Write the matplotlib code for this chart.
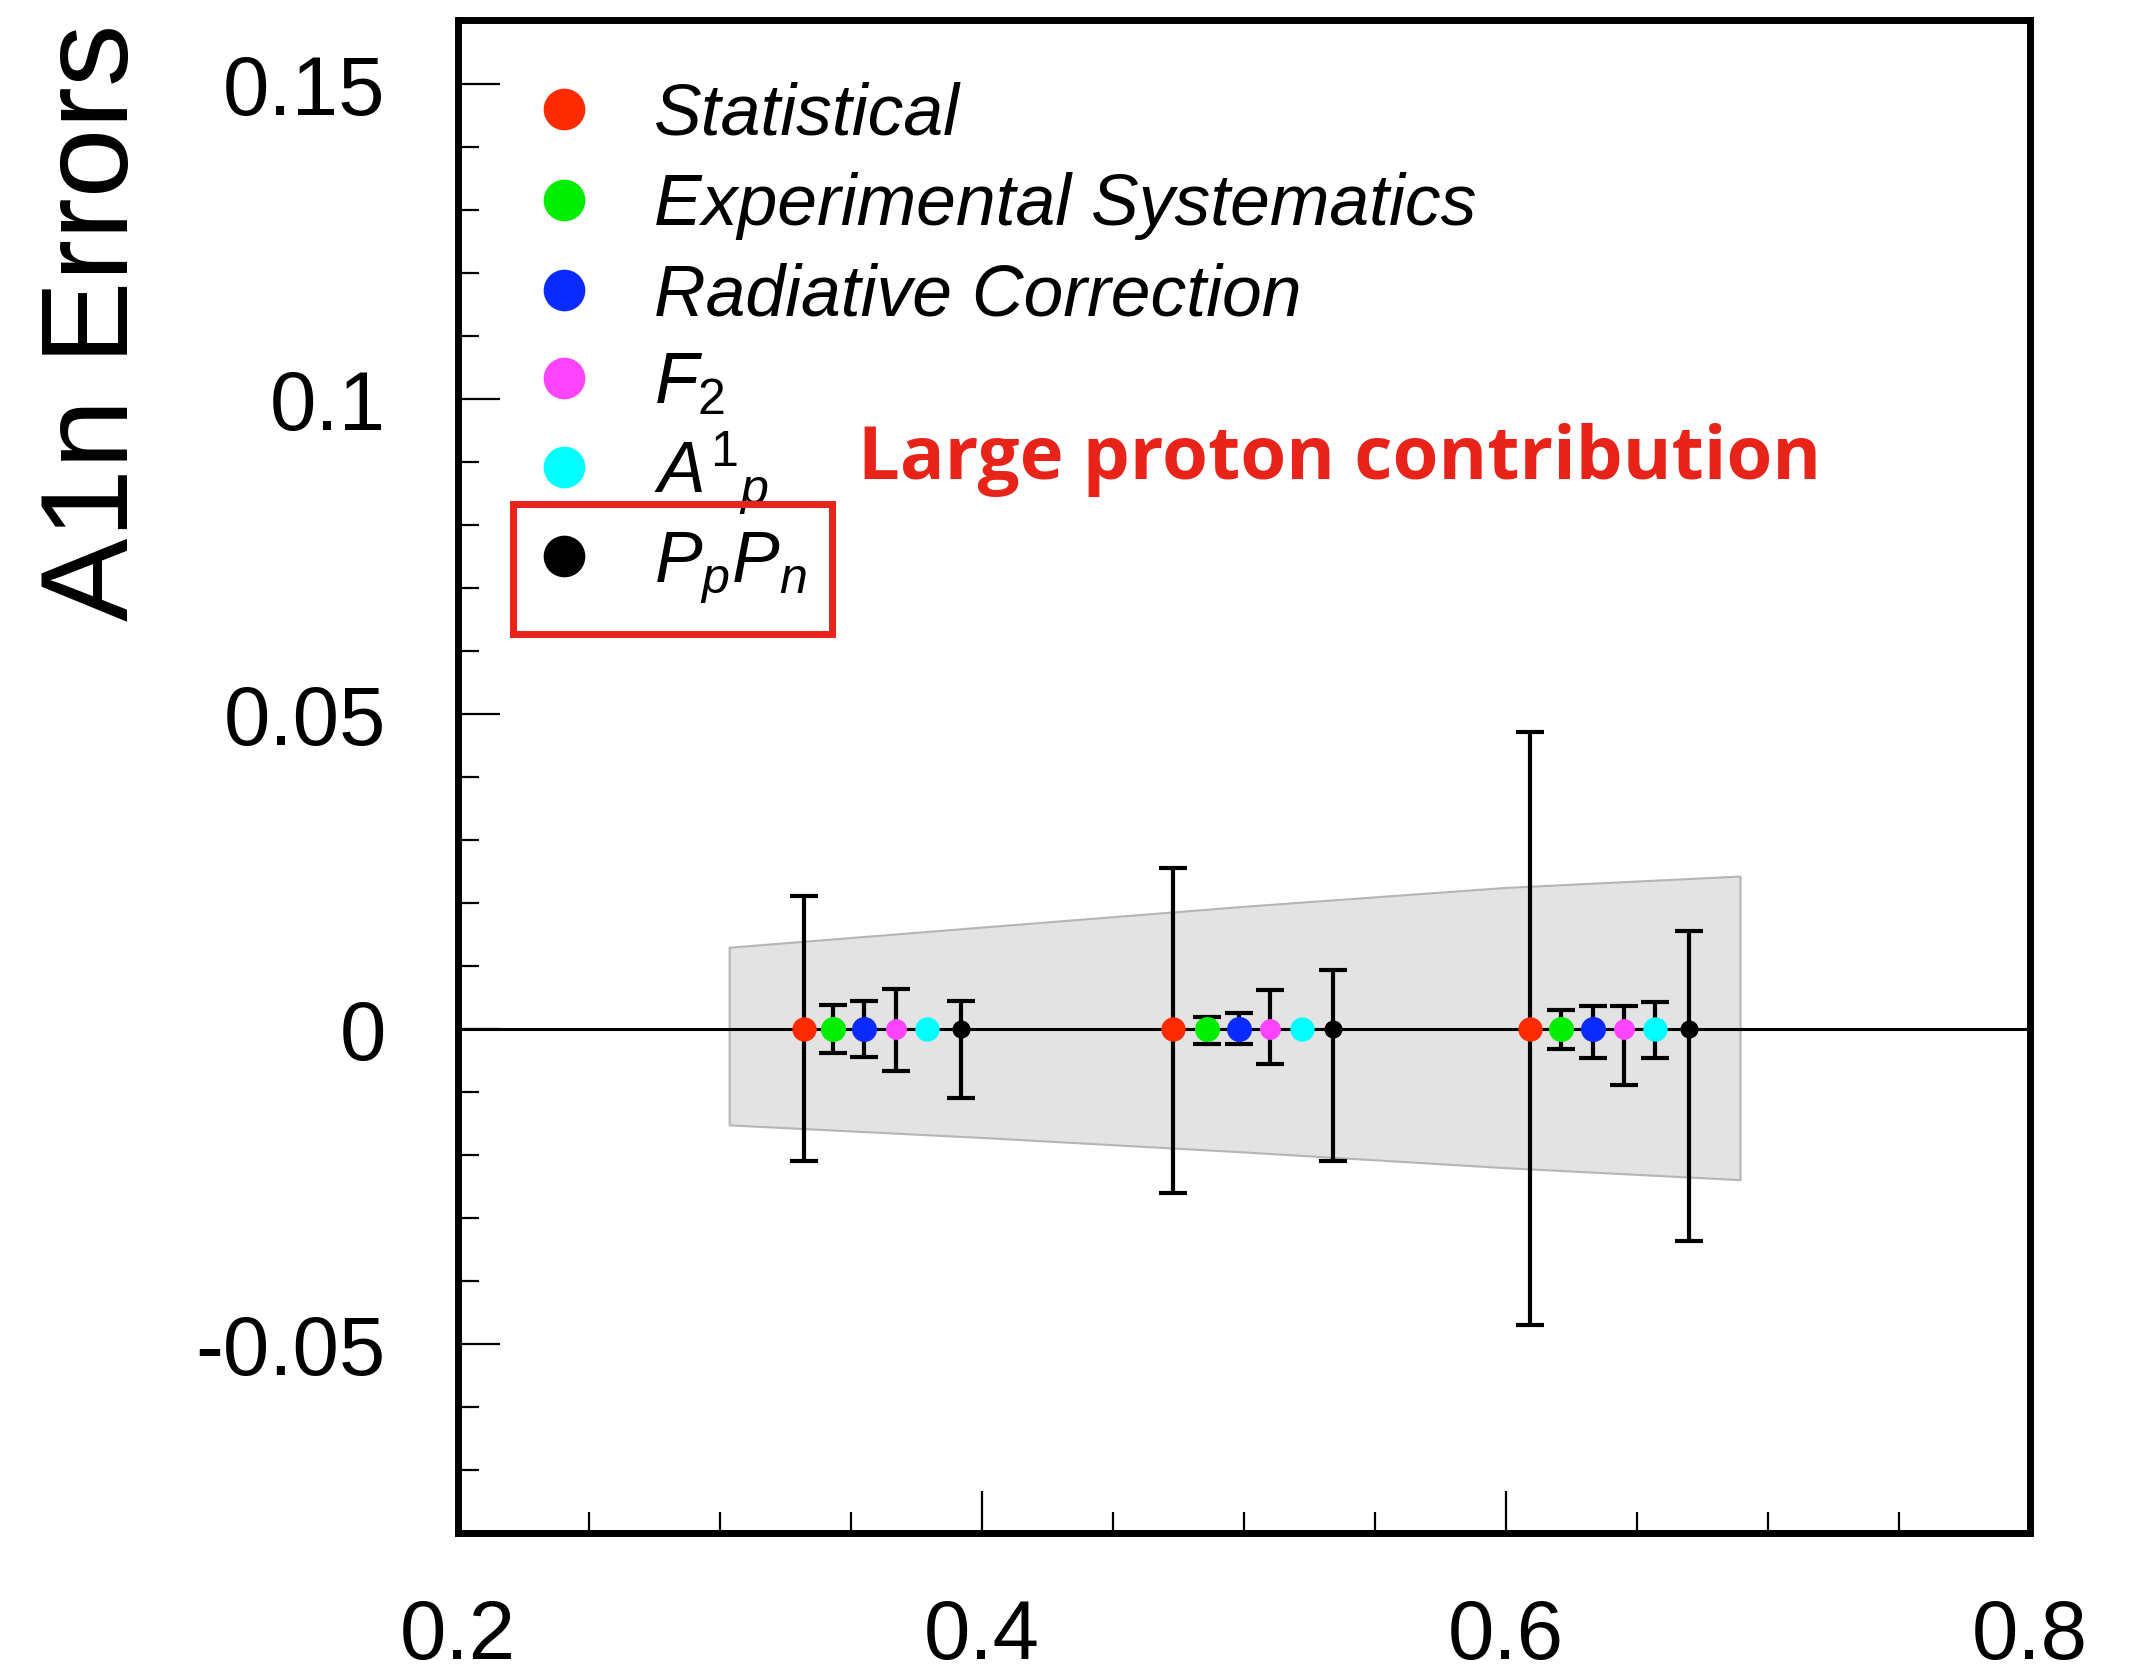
import numpy as np
import matplotlib
matplotlib.use("Agg")
import matplotlib.pyplot as plt
from matplotlib.ticker import MultipleLocator, FuncFormatter
from matplotlib.patches import Rectangle

plt.rcParams['font.family'] = ['Liberation Sans', 'DejaVu Sans']
plt.rcParams['mathtext.fontset'] = 'custom'
plt.rcParams['mathtext.it'] = 'Liberation Sans:italic'
plt.rcParams['mathtext.rm'] = 'Liberation Sans'
plt.rcParams['mathtext.default'] = 'it'

# data
labels = ['Statistical', 'Experimental Systematics', 'Radiative Correction',
          r'$F_{2}$', r'$A^{1}{}_{p}$', r'$P_{p}P_{n}$']
colors = ['#ff2a00', '#00ee00', '#0a2aff', '#ff44ff', '#00ffff', '#000000']
msizes = [17.5, 18, 18, 15, 17.5, 13]

xs = [[0.332, 0.473, 0.609],
      [0.343, 0.486, 0.621],
      [0.355, 0.498, 0.633],
      [0.367, 0.510, 0.645],
      [0.379, 0.522, 0.657],
      [0.392, 0.534, 0.670]]
err_lo = [[0.0210, 0.0260, 0.0470],
          [0.0038, 0.0024, 0.0032],
          [0.0044, 0.0024, 0.0046],
          [0.0067, 0.0055, 0.0088],
          [np.nan, np.nan, 0.0046],
          [0.0110, 0.0210, 0.0337]]
err_hi = [[0.0212, 0.0256, 0.0472],
          [0.0038, 0.0020, 0.0030],
          [0.0044, 0.0025, 0.0036],
          [0.0063, 0.0062, 0.0036],
          [np.nan, np.nan, 0.0043],
          [0.0044, 0.0094, 0.0155]]

band_x = [0.3035, 0.40, 0.50, 0.60, 0.6893]
band_hi = [0.0130, 0.0162, 0.0195, 0.0225, 0.0243]
band_lo = [-0.0152, -0.0172, -0.0195, -0.0220, -0.0239]

fig = plt.figure(figsize=(21.46, 16.66), dpi=100)
ax = fig.add_axes([0.2134, 0.0798, 0.7326, 0.9082])

ax.fill_between(band_x, band_lo, band_hi, color='#e3e3e3', edgecolor='#b5b5b5',
                linewidth=1.5, zorder=1)
ax.axhline(0, color='black', linewidth=2.2, zorder=2)

for i in range(len(labels)):
    y0 = np.zeros(len(xs[i]))
    ax.errorbar(xs[i], y0, yerr=[err_lo[i], err_hi[i]], fmt='none', ecolor='black',
                elinewidth=3, capsize=10, capthick=3, zorder=3)
    ax.plot(xs[i], y0, 'o', color=colors[i], markersize=msizes[i], markeredgewidth=0, zorder=4)

ax.set_xlim(0.2, 0.8)
ax.set_ylim(-0.08, 0.1602)
ax.xaxis.set_major_locator(MultipleLocator(0.2))
ax.xaxis.set_minor_locator(MultipleLocator(0.05))
ax.yaxis.set_major_locator(MultipleLocator(0.05))
ax.yaxis.set_minor_locator(MultipleLocator(0.01))
fmt = FuncFormatter(lambda v, p: '%g' % round(v, 3))
ax.xaxis.set_major_formatter(fmt)
ax.yaxis.set_major_formatter(fmt)
ax.tick_params(which='both', direction='in', top=False, right=False, labelsize=60, width=1.6)
ax.tick_params(which='major', length=30)
ax.tick_params(which='minor', length=15)
ax.tick_params(axis='y', which='major', pad=52)
ax.tick_params(axis='x', which='major', pad=47)
for s in ax.spines.values():
    s.set_linewidth(5)

# legend
leg_y = [0.9412, 0.881, 0.8215, 0.7634, 0.7046, 0.6457]
for i in range(len(labels)):
    ax.plot(0.0674, leg_y[i], 'o', color=colors[i], markersize=30, markeredgewidth=0,
            transform=ax.transAxes, clip_on=False)
    ax.text(0.1247, leg_y[i] - 0.0167, labels[i], transform=ax.transAxes, fontsize=51.5,
            style='italic', va='baseline', ha='left')

fig.text(0.0447, 0.8067, 'A1n Errors', rotation=90, fontsize=90, ha='center', va='center')

fig.text(0.3998, 0.7125, 'Large proton contribution', color='#e8231a', fontsize=53.5,
         fontweight='bold', family=['Open Sans', 'DejaVu Sans'], va='baseline', ha='left')
fig.patches.append(Rectangle((0.239, 0.6194), 0.1487, 0.078, transform=fig.transFigure,
                             fill=False, edgecolor='#e8231a', linewidth=5))

fig.savefig('out.png', dpi=100)
